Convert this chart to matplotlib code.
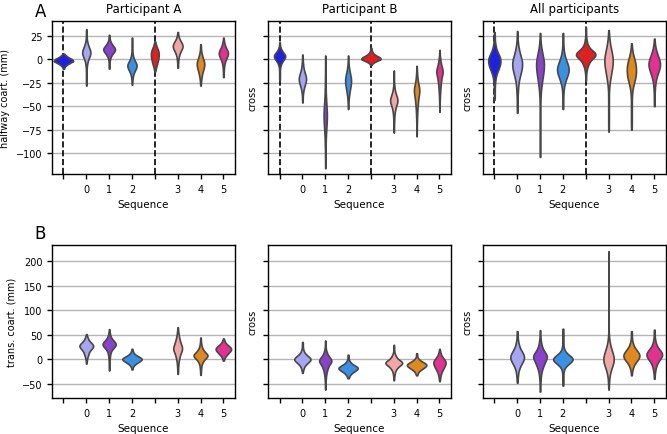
"""Violin plots of coarticulation per sequence"""

import matplotlib
matplotlib.use("Agg")
import matplotlib.pyplot as plt
import pandas as pd
import seaborn as sns


# categories on the x axis ("b" and "r" are the two unlabelled ones)
categories = ["b", "0", "1", "2", "r", "3", "4", "5"]
tick_labels = ["", "0", "1", "2", "", "3", "4", "5"]
colors = ["blue", "#9999ff", "blueviolet", "dodgerblue",
          "red", "#ff9999", "darkorange", "deeppink"]

titles = ["Participant A", "Participant B", "All participants"]

# halfway coarticulation (mm): for each category a list of (value, count)
half_a = [
    [(-10, 1), (-8, 2), (-6, 5), (-4, 10), (-2, 16), (0, 14), (2, 8), (4, 4), (6, 1)],
    [(-28, 1), (-25, 1), (-22, 1), (-19, 1), (-16, 1), (-13, 1), (-10, 1), (-7, 2), (-4, 3),
     (-1, 5), (2, 9), (5, 14), (8, 16), (11, 11), (14, 7), (17, 4),
     (20, 2), (23, 1), (26, 1), (29, 1), (32, 1)],
    [(-10, 1), (-8, 1), (-6, 1), (-4, 1), (-2, 1), (0, 2), (2, 3), (4, 5), (6, 8), (8, 12),
     (10, 15), (12, 14), (14, 10), (16, 6), (18, 4), (20, 2), (22, 1), (24, 1), (26, 1)],
    [(-27, 1), (-25, 1), (-23, 1), (-21, 1), (-19, 2), (-17, 3), (-15, 4), (-13, 6),
     (-11, 9), (-9, 12), (-7, 14), (-5, 13), (-3, 9), (-1, 6), (1, 4), (3, 3), (5, 2),
     (7, 1), (9, 1), (11, 1), (13, 1), (15, 1), (17, 1), (19, 1), (21, 1), (23, 1)],
    [(-13, 1), (-11, 2), (-9, 3), (-7, 4), (-5, 6), (-3, 7), (-1, 8), (1, 9), (3, 10),
     (5, 10), (7, 10), (9, 9), (11, 7), (13, 5), (15, 3), (17, 2), (19, 1)],
    [(-9, 1), (-7, 1), (-5, 1), (-3, 1), (-1, 2), (1, 2), (3, 3), (5, 4), (7, 6), (9, 8),
     (11, 11), (13, 13), (15, 13), (17, 11), (19, 8), (21, 5), (23, 3), (25, 2),
     (27, 1), (29, 1)],
    [(-28, 1), (-26, 1), (-24, 1), (-22, 2), (-20, 2), (-18, 3), (-16, 4), (-14, 5),
     (-12, 6), (-10, 8), (-8, 9), (-6, 10), (-4, 10), (-2, 9), (0, 7), (2, 5), (4, 4),
     (6, 3), (8, 2), (10, 1), (12, 1), (14, 1), (16, 1)],
    [(-19, 1), (-17, 1), (-15, 1), (-13, 1), (-11, 1), (-9, 2), (-7, 2), (-5, 3), (-3, 4),
     (-1, 6), (1, 8), (3, 11), (5, 13), (7, 14), (9, 12), (11, 9), (13, 6), (15, 4),
     (17, 3), (19, 2), (21, 1), (23, 1)],
]
half_b = [
    [(-22, 1), (-20, 1), (-18, 1), (-16, 1), (-14, 1), (-12, 1), (-10, 1), (-8, 2), (-6, 3),
     (-4, 5), (-2, 8), (0, 12), (2, 16), (4, 17), (6, 13), (8, 8), (10, 5), (12, 3),
     (14, 1), (16, 1), (18, 1)],
    [(-46, 1), (-43, 1), (-40, 1), (-37, 2), (-34, 3), (-31, 5), (-28, 8), (-25, 11),
     (-22, 14), (-19, 13), (-16, 10), (-13, 7), (-10, 4), (-7, 3), (-4, 2), (-1, 1),
     (2, 1), (5, 1)],
    [(-116, 1), (-110, 1), (-104, 1), (-98, 2), (-92, 2), (-86, 3), (-80, 5), (-74, 7),
     (-68, 10), (-62, 13), (-56, 12), (-50, 9), (-44, 6), (-38, 4), (-32, 3), (-26, 2),
     (-20, 2), (-14, 1), (-8, 1), (-2, 1), (4, 1)],
    [(-53, 1), (-50, 1), (-47, 1), (-44, 2), (-41, 3), (-38, 4), (-35, 6), (-32, 8),
     (-29, 10), (-26, 12), (-23, 13), (-20, 12), (-17, 10), (-14, 7), (-11, 5), (-8, 3),
     (-5, 2), (-2, 1), (1, 1), (4, 1)],
    [(-6, 1), (-4, 3), (-2, 8), (0, 16), (2, 14), (4, 8), (6, 4), (8, 2), (10, 1), (12, 1)],
    [(-78, 1), (-75, 1), (-72, 1), (-69, 1), (-66, 2), (-63, 2), (-60, 3), (-57, 4),
     (-54, 6), (-51, 9), (-48, 13), (-45, 20), (-42, 18), (-39, 13), (-36, 8), (-33, 5),
     (-30, 3), (-27, 2), (-24, 1), (-21, 1), (-18, 1), (-15, 1), (-12, 1)],
    [(-82, 1), (-79, 1), (-76, 1), (-73, 1), (-70, 1), (-67, 2), (-64, 2), (-61, 3),
     (-58, 3), (-55, 4), (-52, 5), (-49, 6), (-46, 8), (-43, 9), (-40, 11), (-37, 14),
     (-34, 18), (-31, 17), (-28, 12), (-25, 8), (-22, 6), (-19, 4), (-16, 3), (-13, 2),
     (-10, 1), (-7, 1)],
    [(-56, 1), (-53, 1), (-50, 1), (-47, 1), (-44, 2), (-41, 2), (-38, 3), (-35, 4),
     (-32, 5), (-29, 6), (-26, 8), (-23, 10), (-20, 12), (-17, 15), (-14, 22), (-11, 20),
     (-8, 13), (-5, 9), (-2, 6), (1, 4), (4, 2), (7, 1), (10, 1)],
]
half_all = [
    [(-43, 1), (-40, 1), (-37, 1), (-34, 1), (-31, 1), (-28, 1), (-25, 2), (-22, 2),
     (-19, 3), (-16, 5), (-13, 7), (-10, 10), (-7, 13), (-4, 14), (-1, 15), (2, 14),
     (5, 10), (8, 7), (11, 4), (14, 3), (17, 2), (20, 1), (23, 1), (26, 1), (29, 1)],
    [(-57, 1), (-54, 1), (-51, 1), (-48, 1), (-45, 1), (-42, 1), (-39, 1), (-36, 2),
     (-33, 2), (-30, 3), (-27, 3), (-24, 4), (-21, 6), (-18, 8), (-15, 10), (-12, 12),
     (-9, 14), (-6, 15), (-3, 15), (0, 13), (3, 10), (6, 8), (9, 6), (12, 4), (15, 3),
     (18, 2), (21, 1), (24, 1), (27, 1), (30, 1)],
    [(-104, 1), (-100, 1), (-96, 1), (-92, 1), (-88, 1), (-84, 1), (-80, 1), (-76, 1),
     (-72, 1), (-68, 1), (-64, 1), (-60, 1), (-56, 1), (-52, 1), (-48, 1), (-44, 1),
     (-40, 2), (-36, 2), (-32, 3), (-28, 5), (-24, 7), (-20, 9), (-16, 11), (-12, 13),
     (-8, 15), (-4, 16), (0, 14), (4, 10), (8, 6), (12, 4), (16, 2), (20, 1), (24, 1),
     (28, 1)],
    [(-53, 1), (-50, 1), (-47, 1), (-44, 1), (-41, 1), (-38, 1), (-35, 2), (-32, 2),
     (-29, 3), (-26, 5), (-23, 7), (-20, 10), (-17, 13), (-14, 16), (-11, 17), (-8, 16),
     (-5, 13), (-2, 10), (1, 7), (4, 5), (7, 3), (10, 2), (13, 2), (16, 1), (19, 1),
     (22, 1), (25, 1), (28, 1)],
    [(-23, 1), (-20, 1), (-17, 1), (-14, 2), (-11, 3), (-8, 5), (-5, 8), (-2, 12), (1, 20),
     (4, 30), (7, 28), (10, 16), (13, 9), (16, 5), (19, 3), (22, 2), (25, 1), (28, 1),
     (31, 1), (34, 1)],
    [(-77, 1), (-73, 1), (-69, 1), (-65, 1), (-61, 1), (-57, 1), (-53, 1), (-49, 1),
     (-45, 1), (-41, 1), (-37, 1), (-33, 1), (-29, 2), (-25, 3), (-21, 5), (-17, 7),
     (-13, 9), (-9, 11), (-5, 13), (-1, 14), (3, 13), (7, 10), (11, 7), (15, 5), (19, 3),
     (23, 2), (27, 1), (31, 1)],
    [(-75, 1), (-71, 1), (-67, 1), (-63, 1), (-59, 1), (-55, 1), (-51, 1), (-47, 1),
     (-43, 1), (-39, 1), (-35, 2), (-31, 3), (-27, 5), (-23, 8), (-19, 11), (-15, 12),
     (-11, 12), (-7, 12), (-3, 10), (1, 7), (5, 4), (9, 2), (13, 1), (17, 1)],
    [(-50, 1), (-47, 1), (-44, 1), (-41, 1), (-38, 1), (-35, 1), (-32, 2), (-29, 2),
     (-26, 3), (-23, 4), (-20, 6), (-17, 8), (-14, 11), (-11, 14), (-8, 16), (-5, 17),
     (-2, 16), (1, 13), (4, 10), (7, 7), (10, 5), (13, 3), (16, 2), (19, 1), (22, 1)],
]

# transitional coarticulation (mm), no data for "b" and "r"
trans_a = [
    None,
    [(-9, 1), (-5, 1), (-1, 2), (3, 3), (7, 5), (11, 7), (15, 8), (19, 13), (23, 18),
     (27, 22), (31, 18), (35, 12), (39, 6), (43, 5), (47, 2), (51, 1)],
    [(-23, 1), (-19, 1), (-15, 1), (-11, 1), (-7, 1), (-3, 1), (1, 2), (5, 2), (9, 3),
     (13, 4), (17, 6), (21, 10), (25, 16), (29, 22), (33, 20), (37, 14), (41, 8), (45, 5),
     (49, 3), (53, 2), (57, 1), (61, 1)],
    [(-21, 1), (-18, 1), (-15, 2), (-12, 4), (-9, 7), (-6, 11), (-3, 15), (0, 18), (3, 15),
     (6, 10), (9, 6), (12, 3), (15, 2), (18, 1), (21, 1)],
    None,
    [(-30, 1), (-25, 1), (-20, 1), (-15, 2), (-10, 2), (-5, 3), (0, 4), (5, 6), (10, 8),
     (15, 11), (20, 15), (25, 14), (30, 10), (35, 8), (40, 6), (45, 4), (50, 3), (55, 2),
     (60, 1), (65, 1)],
    [(-32, 1), (-28, 1), (-24, 1), (-20, 2), (-16, 2), (-12, 3), (-8, 5), (-4, 8), (0, 12),
     (4, 19), (8, 24), (12, 16), (16, 11), (20, 7), (24, 4), (28, 3), (32, 2), (36, 1),
     (40, 1), (44, 1)],
    [(-3, 1), (0, 2), (3, 3), (6, 5), (9, 8), (12, 11), (15, 14), (18, 17), (21, 18),
     (24, 16), (27, 12), (30, 8), (33, 5), (36, 3), (39, 2), (42, 1)],
]
trans_b = [
    None,
    [(-28, 1), (-25, 1), (-22, 2), (-19, 3), (-16, 4), (-13, 6), (-10, 9), (-7, 13),
     (-4, 17), (-1, 20), (2, 19), (5, 15), (8, 10), (11, 7), (14, 4), (17, 3), (20, 2),
     (23, 1), (26, 1), (29, 1), (32, 1), (35, 1)],
    [(-62, 1), (-58, 1), (-54, 1), (-50, 1), (-46, 1), (-42, 2), (-38, 2), (-34, 3),
     (-30, 4), (-26, 5), (-22, 7), (-18, 9), (-14, 12), (-10, 15), (-6, 24), (-2, 25),
     (2, 18), (6, 12), (10, 8), (14, 5), (18, 3), (22, 2), (26, 1), (30, 1), (34, 1),
     (38, 1)],
    [(-39, 1), (-36, 2), (-33, 3), (-30, 5), (-27, 8), (-24, 12), (-21, 16), (-18, 18),
     (-15, 15), (-12, 10), (-9, 6), (-6, 4), (-3, 2), (0, 1), (3, 1), (6, 1), (9, 1)],
    None,
    [(-43, 1), (-40, 1), (-37, 1), (-34, 2), (-31, 2), (-28, 3), (-25, 4), (-22, 6),
     (-19, 9), (-16, 13), (-13, 17), (-10, 25), (-7, 27), (-4, 22), (-1, 14), (2, 10),
     (5, 7), (8, 5), (11, 3), (14, 2), (17, 1), (20, 1), (23, 1), (26, 1), (29, 1)],
    [(-33, 1), (-30, 2), (-27, 3), (-24, 5), (-21, 9), (-18, 13), (-15, 17), (-12, 19),
     (-9, 17), (-6, 12), (-3, 7), (0, 4), (3, 2), (6, 1), (9, 1), (12, 1)],
    [(-45, 1), (-42, 1), (-39, 2), (-36, 2), (-33, 3), (-30, 4), (-27, 5), (-24, 7),
     (-21, 9), (-18, 11), (-15, 13), (-12, 15), (-9, 16), (-6, 17), (-3, 15), (0, 12),
     (3, 9), (6, 6), (9, 4), (12, 3), (15, 2), (18, 1), (21, 1)],
]
trans_all = [
    None,
    [(-48, 1), (-43, 1), (-38, 1), (-33, 2), (-28, 2), (-23, 3), (-18, 5), (-13, 7),
     (-8, 10), (-3, 13), (2, 15), (7, 15), (12, 12), (17, 9), (22, 6), (27, 4), (32, 3),
     (37, 2), (42, 1), (47, 1), (52, 1), (57, 1)],
    [(-66, 1), (-61, 1), (-56, 1), (-51, 1), (-46, 1), (-41, 2), (-36, 2), (-31, 3),
     (-26, 4), (-21, 6), (-16, 8), (-11, 11), (-6, 14), (-1, 16), (4, 22), (9, 20),
     (14, 13), (19, 9), (24, 6), (29, 4), (34, 3), (39, 2), (44, 1), (49, 1), (54, 1),
     (59, 1)],
    [(-54, 1), (-50, 1), (-46, 1), (-42, 1), (-38, 1), (-34, 1), (-30, 1), (-26, 1),
     (-22, 2), (-18, 3), (-14, 6), (-10, 10), (-6, 16), (-2, 21), (2, 21), (6, 15),
     (10, 9), (14, 5), (18, 3), (22, 2), (26, 1), (30, 1), (34, 1), (38, 1), (42, 1),
     (46, 1), (50, 1), (54, 1), (58, 1), (62, 1)],
    None,
    [(-62, 1), (-56, 1), (-50, 1), (-44, 2), (-38, 2), (-32, 3), (-26, 5), (-20, 8),
     (-14, 12), (-8, 18), (-2, 24), (4, 22), (10, 15), (16, 11), (22, 8), (28, 5), (34, 3),
     (40, 2), (46, 1), (55, 1), (70, 1), (85, 1), (100, 1), (115, 1), (130, 1), (145, 1),
     (160, 1), (175, 1), (190, 1), (205, 1), (220, 1)],
    [(-33, 1), (-28, 1), (-23, 2), (-18, 3), (-13, 5), (-8, 8), (-3, 12), (2, 16), (7, 18),
     (12, 16), (17, 12), (22, 8), (27, 5), (32, 3), (37, 2), (42, 1), (47, 1), (52, 1),
     (57, 1)],
    [(-40, 1), (-35, 1), (-30, 1), (-25, 2), (-20, 3), (-15, 4), (-10, 6), (-5, 9), (0, 13),
     (5, 17), (10, 19), (15, 16), (20, 11), (25, 7), (30, 4), (35, 3), (40, 2), (45, 1),
     (50, 1), (55, 1), (60, 1)],
]


def to_frame(samples):
    """Turn the (value, count) lists into a long dataframe"""
    rows = []
    for cat, table in zip(categories, samples):
        if table is None:
            continue
        for value, count in table:
            rows += [{"Sequence": cat, "value": value}] * count
    return pd.DataFrame(rows)


def draw_panel(ax, samples, ylim, yticks, dashed):
    df = to_frame(samples)
    present = [c for c in categories if c in set(df["Sequence"])]
    palette = dict(zip(categories, colors))
    sns.violinplot(data=df, x="Sequence", y="value", hue="Sequence",
                   order=categories, hue_order=present, palette=palette,
                   legend=False, inner=None, cut=0, bw_adjust=0.7,
                   common_norm=True, density_norm="area",
                   linewidth=1.2, linecolor="#474747", saturation=0.75,
                   width=0.85, ax=ax)
    if dashed:
        for pos in [0, 4]:
            ax.axvline(pos, color="black", ls="--", lw=1.2, zorder=0.9)
    ax.set_xlim(-0.5, 7.5)
    ax.set_ylim(*ylim)
    ax.set_yticks(yticks)
    ax.set_xticks(range(len(categories)))
    ax.set_xticklabels(tick_labels)
    ax.yaxis.grid(True, color="#b4b4b4", lw=1.0)
    ax.set_axisbelow(True)
    ax.set_xlabel("Sequence", fontsize=7.5)
    ax.tick_params(labelsize=7, length=3.5, width=1)
    for sp in ax.spines.values():
        sp.set_linewidth(1.0)


fig = plt.figure(figsize=(6.67, 4.35), dpi=100)

lefts = [0.078, 0.402, 0.724]
top_data = [half_a, half_b, half_all]
bottom_data = [trans_a, trans_b, trans_all]

for i in range(3):
    ax = fig.add_axes([lefts[i], 0.598, 0.274, 0.352])
    draw_panel(ax, top_data[i], (-122, 41), [-100, -75, -50, -25, 0, 25], True)
    ax.set_title(titles[i], fontsize=8.5)
    if i == 0:
        ax.set_ylabel("halfway coart. (mm)", fontsize=7)
    else:
        ax.set_ylabel("cross", fontsize=7)
        ax.tick_params(labelleft=False)

    ax = fig.add_axes([lefts[i], 0.083, 0.274, 0.352])
    draw_panel(ax, bottom_data[i], (-79, 233), [-50, 0, 50, 100, 150, 200], False)
    if i == 0:
        ax.set_ylabel("trans. coart. (mm)", fontsize=7)
    else:
        ax.set_ylabel("cross", fontsize=7)
        ax.tick_params(labelleft=False)

fig.text(0.052, 0.993, "A", fontsize=12, va="top", ha="left")
fig.text(0.052, 0.483, "B", fontsize=12, va="top", ha="left")

fig.savefig("out.png", dpi=100)
